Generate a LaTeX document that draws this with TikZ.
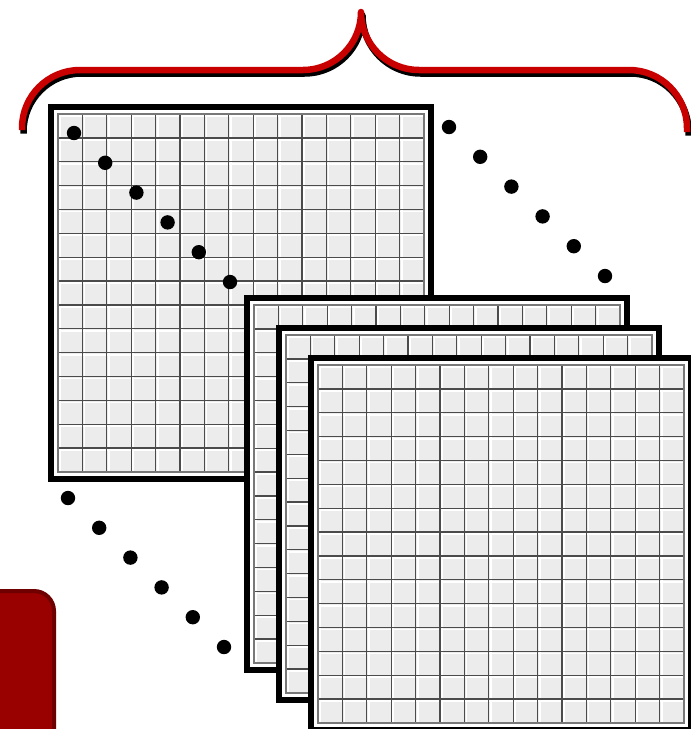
\documentclass[tikz,border=0pt]{standalone}
\definecolor{bracered}{RGB}{200,0,0}
\definecolor{boxred}{RGB}{153,0,0}
\definecolor{boxedge}{RGB}{110,0,0}
\definecolor{cellfill}{RGB}{236,236,236}
\definecolor{gridline}{RGB}{75,75,75}
\definecolor{gridedge}{RGB}{120,120,120}
\tikzset{
  matpic/.pic={
    \fill[white] (0,0) rectangle (380,372);
    \fill[cellfill] (7,7) rectangle (373,365);
    \foreach \i in {0,...,14}{
      \draw[white,line width=1.8pt] ({7+\i*24.4+2},7) -- ++(0,358);
      \draw[white,line width=1.8pt] (7,{7+\i*23.8667+2}) -- ++(366,0);
    }
    \foreach \i in {1,...,14}{
      \draw[gridline,line width=1.3pt] ({7+\i*24.4},7) -- ++(0,358);
      \draw[gridline,line width=1.3pt] (7,{7+\i*23.8667}) -- ++(366,0);
    }
    \draw[gridedge,line width=1.6pt] (7,7) rectangle (373,365);
    \draw[black,line width=5.5pt] (0,0) rectangle (380,372);
  },
  dotmark/.style={fill=black},
  bracepath/.style={line width=6.5pt,line join=round,line cap=butt}
}
\begin{document}
\begin{tikzpicture}[x=1pt,y=-1pt]
\useasboundingbox (0,0) rectangle (691,729);
\clip (0,0) rectangle (691,729);
% brace shadow and brace
\draw[bracepath,black,shift={(1.5,3.5)}] (22,130) -- (22,128) .. controls (22,96) and (48,70) .. (80,70) -- (303,70) .. controls (335,70) and (361,44) .. (361,12) .. controls (361,44) and (387,70) .. (419,70) -- (629,70) .. controls (661,70) and (687,96) .. (687,128) -- (687,132);
\draw[bracepath,bracered] (22,130) -- (22,128) .. controls (22,96) and (48,70) .. (80,70) -- (303,70) .. controls (335,70) and (361,44) .. (361,12) .. controls (361,44) and (387,70) .. (419,70) -- (629,70) .. controls (661,70) and (687,96) .. (687,128) -- (687,132);
% red box bottom left
\draw[boxedge,fill=boxred,line width=4pt,rounded corners=20pt] (-40,591) rectangle (54,790);
% matrices
\pic at (51,107) {matpic};
% dots
\foreach \k in {0,...,5}{
  \fill[dotmark] ({74+\k*31.2},{133+\k*29.8}) circle (7.2);
  \fill[dotmark] ({449+\k*31.2},{127+\k*29.8}) circle (7.2);
  \fill[dotmark] ({68+\k*31.2},{498+\k*29.8}) circle (7.2);
}
\pic at (247,298) {matpic};
\pic at (279,328) {matpic};
\pic at (311,358) {matpic};
\end{tikzpicture}
\end{document}
